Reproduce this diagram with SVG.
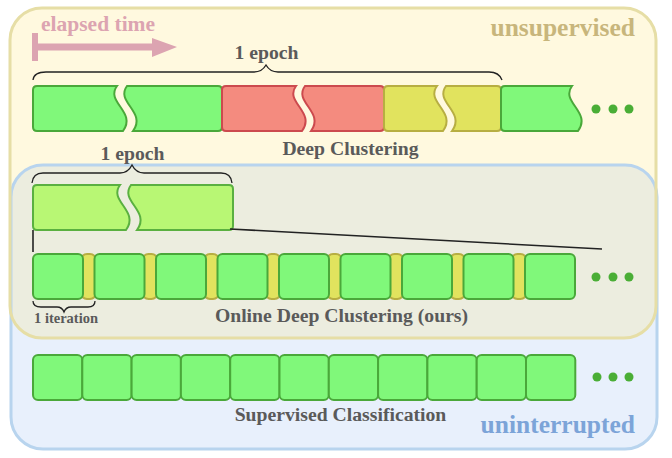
<svg xmlns="http://www.w3.org/2000/svg" width="672" height="458" viewBox="0 0 672 458">
<style>
text{font-family:"Liberation Serif","Times New Roman",serif;font-weight:bold}
.lbl{font-size:19.7px;fill:#5a5a5a;text-anchor:middle}
.g{fill:#80f87a;stroke:#4aa83a;stroke-width:2}
.lg{fill:#b8f774;stroke:#5ab040;stroke-width:2}
.r{fill:#f48b7f;stroke:#cc4a4e;stroke-width:2}
.y{fill:#e1e35e;stroke:#b7ae42;stroke-width:2}
.br{fill:none;stroke:#222;stroke-width:1.3}
.dot{fill:#4aae36}
</style>
<defs>
<clipPath id="yclip"><rect x="10" y="8" width="646" height="330" rx="32"/></clipPath>
</defs>
<g id="regions">
<rect x="10" y="8" width="646" height="330" rx="32" fill="#fff9df"/>
<rect x="11" y="165" width="646" height="284" rx="32" fill="#e8f0fc"/>
<rect x="11" y="165" width="646" height="284" rx="32" fill="#eceddf" clip-path="url(#yclip)"/>
<rect x="11" y="165" width="646" height="284" rx="32" fill="none" stroke="#b8d4ee" stroke-width="3"/>
<rect x="10" y="8" width="646" height="330" rx="32" fill="none" stroke="#e6dea6" stroke-width="3"/>
<text x="635" y="36" font-size="25.5" fill="#c8b67c" text-anchor="end">unsupervised</text>
<text x="635" y="433" font-size="25.5" fill="#7ca4d8" text-anchor="end">uninterrupted</text>
</g>
<g id="elapsed-time">
<rect x="32" y="33" width="6" height="28" fill="#dca4b1"/>
<rect x="36" y="43.5" width="118" height="7" fill="#dca4b1"/>
<polygon points="152,38 177,47 152,57" fill="#dca4b1"/>
<text x="41" y="31" font-size="21.5" fill="#dca4b1">elapsed time</text>
</g>
<g id="deep-clustering">
<path class="g" d="M117,86 C105,102 137,112 123,131 L37,131 Q33,131 33,127 L33,90 Q33,86 37,86 Z"/>
<path class="g" d="M127,86 L218,86 Q222,86 222,90 L222,127 Q222,131 218,131 L133,131 C147,112 115,102 127,86 Z"/>
<path class="r" d="M296,86 C284,102 316,112 302,131 L226,131 Q222,131 222,127 L222,90 Q222,86 226,86 Z"/>
<path class="r" d="M305,86 L380,86 Q384,86 384,90 L384,127 Q384,131 380,131 L311,131 C325,112 293,102 305,86 Z"/>
<path class="y" d="M437,86 C425,102 457,112 443,131 L388,131 Q384,131 384,127 L384,90 Q384,86 388,86 Z"/>
<path class="y" d="M446,86 L497,86 Q501,86 501,90 L501,127 Q501,131 497,131 L452,131 C466,112 434,102 446,86 Z"/>
<path class="g" d="M572,86 C560,102 592,112 578,131 L505,131 Q501,131 501,127 L501,90 Q501,86 505,86 Z"/>
<circle class="dot" cx="596" cy="109" r="4.5"/>
<circle class="dot" cx="613" cy="109" r="4.5"/>
<circle class="dot" cx="629" cy="109" r="4.5"/>
<path class="br" d="M33,80 Q34,72 46,72 L254,72 Q262,72 266,65 Q270,72 278,72 L489,72 Q499,72 502,80"/>
<text class="lbl" x="266.5" y="59">1 epoch</text>
<text class="lbl" x="350.5" y="155">Deep Clustering</text>
</g>
<g id="online-deep-clustering">
<path class="br" d="M32,183 Q33,173 43,173 L120,173 Q128,173 132,165 Q136,173 144,173 L221,173 Q231,173 232,183"/>
<text class="lbl" x="132.5" y="160">1 epoch</text>
<path class="lg" d="M120,185 C108,201 140,211 126,230 L37,230 Q33,230 33,226 L33,189 Q33,185 37,185 Z"/>
<path class="lg" d="M131,185 L229,185 Q233,185 233,189 L233,226 Q233,230 229,230 L137,230 C151,211 119,201 131,185 Z"/>
<g id="iterations">
<rect class="y" x="81" y="254" width="15" height="45" rx="6"/>
<rect class="y" x="142.5" y="254" width="15" height="45" rx="6"/>
<rect class="y" x="204" y="254" width="15" height="45" rx="6"/>
<rect class="y" x="265.5" y="254" width="15" height="45" rx="6"/>
<rect class="y" x="327" y="254" width="15" height="45" rx="6"/>
<rect class="y" x="388.5" y="254" width="15" height="45" rx="6"/>
<rect class="y" x="450" y="254" width="15" height="45" rx="6"/>
<rect class="y" x="511.5" y="254" width="15" height="45" rx="6"/>
<rect class="g" x="33" y="254" width="50" height="45" rx="5"/>
<rect class="g" x="94.5" y="254" width="50" height="45" rx="5"/>
<rect class="g" x="156" y="254" width="50" height="45" rx="5"/>
<rect class="g" x="217.5" y="254" width="50" height="45" rx="5"/>
<rect class="g" x="279" y="254" width="50" height="45" rx="5"/>
<rect class="g" x="340.5" y="254" width="50" height="45" rx="5"/>
<rect class="g" x="402" y="254" width="50" height="45" rx="5"/>
<rect class="g" x="463.5" y="254" width="50" height="45" rx="5"/>
<rect class="g" x="525" y="254" width="50" height="45" rx="5"/>
</g>
<circle class="dot" cx="596" cy="277" r="4.5"/>
<circle class="dot" cx="613" cy="277" r="4.5"/>
<circle class="dot" cx="629" cy="277" r="4.5"/>
<path class="br" d="M33,301 Q33,307 41,307 L57,307 Q62,307 64,312 Q66,307 71,307 L88,307 Q95,307 95,301"/>
<text x="34" y="323" font-size="14.5" fill="#5a5a5a">1 iteration</text>
<text class="lbl" x="341.5" y="322">Online Deep Clustering (ours)</text>
</g>
<g id="connectors">
<path d="M33,230 L33,252" fill="none" stroke="#222" stroke-width="1.6"/>
<path d="M230,229 L602,249" fill="none" stroke="#222" stroke-width="1.6"/>
</g>
<g id="supervised-classification">
<rect class="g" x="33" y="355" width="49.3" height="45" rx="5"/>
<rect class="g" x="82.3" y="355" width="49.3" height="45" rx="5"/>
<rect class="g" x="131.6" y="355" width="49.3" height="45" rx="5"/>
<rect class="g" x="180.9" y="355" width="49.3" height="45" rx="5"/>
<rect class="g" x="230.2" y="355" width="49.3" height="45" rx="5"/>
<rect class="g" x="279.5" y="355" width="49.3" height="45" rx="5"/>
<rect class="g" x="328.8" y="355" width="49.3" height="45" rx="5"/>
<rect class="g" x="378.1" y="355" width="49.3" height="45" rx="5"/>
<rect class="g" x="427.4" y="355" width="49.3" height="45" rx="5"/>
<rect class="g" x="476.7" y="355" width="49.3" height="45" rx="5"/>
<rect class="g" x="526" y="355" width="49.3" height="45" rx="5"/>
<circle class="dot" cx="597" cy="377" r="4.5"/>
<circle class="dot" cx="613" cy="377" r="4.5"/>
<circle class="dot" cx="629" cy="377" r="4.5"/>
<text class="lbl" x="340.5" y="421">Supervised Classification</text>
</g>
</svg>
